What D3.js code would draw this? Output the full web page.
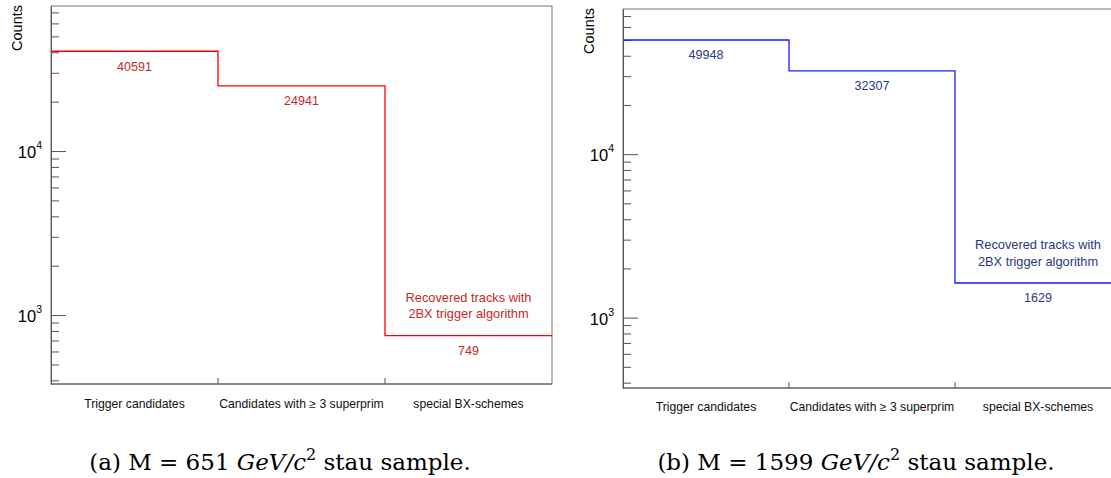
<!DOCTYPE html>
<html>
<head>
<meta charset="utf-8">
<script src="https://cdn.jsdelivr.net/npm/d3@7"></script>
<style>
  html, body { margin: 0; padding: 0; background: #fff; }
  svg { display: block; }
</style>
</head>
<body>
<svg id="chart" width="1111" height="478"></svg>
<script>
// Selection steps along the stau trigger chain
const categories = ["Trigger candidates", "Candidates with \u2265 3 superprim", "special BX-schemes"];

// Counts per step for the two stau mass samples
const counts651 = [40591, 24941, 749];
const counts1599 = [49948, 32307, 1629];

// Major tick exponents on the log axis and the note on the last step
const decadeExponents = [3, 4];
const noteLines = ["Recovered tracks with", "2BX trigger algorithm"];

const captions = [
  { label: "(a)", mass: "651" },
  { label: "(b)", mass: "1599" }
];

const panels = [
  { values: counts651, left: 51, right: 552, top: 6, bottom: 384, yMin: 380, yMax: 76600,
    line: "#ff0000", text: "#c42a2a", labelDy: 24, caption: captions[0], capX: 280 },
  { values: counts1599, left: 623, right: 1121, top: 9, bottom: 388, yMin: 371, yMax: 77300,
    line: "#1a1aff", text: "#1f3a86", labelDy: 23, caption: captions[1], capX: 856 }
];

const svg = d3.select("#chart");
const axisColor = "#555";
const sans = "'Liberation Sans', Arial, sans-serif";

panels.forEach(p => {
  const g = svg.append("g");

  const x = d3.scaleBand().domain(categories).range([p.left, p.right]).padding(0);
  const y = d3.scaleLog().domain([p.yMin, p.yMax]).range([p.bottom, p.top]);

  // frame
  g.append("rect")
    .attr("x", p.left).attr("y", p.top)
    .attr("width", p.right - p.left).attr("height", p.bottom - p.top)
    .attr("fill", "none").attr("stroke", "#777").attr("stroke-width", 1);

  // y axis: majors at decades, minors at 2..9 x decade
  const tickVals = [];
  for (let e = 2; e <= 4; e++) {
    for (let m = 1; m <= 9; m++) {
      const v = m * Math.pow(10, e);
      if (v >= p.yMin && v <= p.yMax) tickVals.push({ v, major: m === 1 && decadeExponents.includes(e) });
    }
  }
  const yAxis = d3.axisRight(y)
    .tickValues(tickVals.map(t => t.v))
    .tickSize(0)
    .tickFormat("");
  const ya = g.append("g").attr("transform", `translate(${p.left},0)`).call(yAxis);
  ya.select(".domain").attr("stroke", axisColor);
  ya.selectAll(".tick line").remove();
  ya.selectAll(".tick").data(tickVals).append("line")
    .attr("x1", 0)
    .attr("x2", d => d.major ? 15 : 8)
    .attr("stroke", axisColor).attr("stroke-width", 1);

  // decade labels 10^n
  decadeExponents.forEach(e => {
    const v = Math.pow(10, e);
    const t = g.append("text")
      .attr("x", p.left - 9).attr("y", y(v) + 7)
      .attr("text-anchor", "end")
      .attr("font-family", sans).attr("font-size", 16.5).attr("fill", "#000");
    t.append("tspan").text("10");
    t.append("tspan").attr("dy", -9).attr("font-size", 10.5).text(e);
  });

  // y title
  g.append("text")
    .attr("transform", `translate(${p.left - 29},${p.top - 1}) rotate(-90)`)
    .attr("text-anchor", "end")
    .attr("font-family", sans).attr("font-size", 14.5).attr("fill", "#000")
    .text("Counts");

  // x axis ticks at bin edges
  const edges = categories.slice(1).map(c => x(c));
  g.selectAll(".xtick").data(edges).enter().append("line")
    .attr("x1", d => d).attr("x2", d => d)
    .attr("y1", p.bottom).attr("y2", p.bottom - 6)
    .attr("stroke", axisColor);
  g.append("line")
    .attr("x1", p.left).attr("x2", p.right)
    .attr("y1", p.bottom).attr("y2", p.bottom)
    .attr("stroke", axisColor);

  // category labels
  g.selectAll(".xlab").data(categories).enter().append("text")
    .attr("x", d => x(d) + x.bandwidth() / 2)
    .attr("y", p.bottom + p.labelDy)
    .attr("text-anchor", "middle")
    .attr("font-family", sans).attr("font-size", 12.2).attr("fill", "#111")
    .text(d => d);

  // step histogram outline
  let dPath = "";
  p.values.forEach((v, i) => {
    const x0 = x(categories[i]), x1 = x0 + x.bandwidth();
    dPath += (i === 0 ? `M${x0},${y(v)}` : `L${x0},${y(v)}`) + `L${x1},${y(v)}`;
  });
  g.append("path").attr("d", dPath)
    .attr("fill", "none").attr("stroke", p.line).attr("stroke-width", 1.3);

  // value labels under each step
  g.selectAll(".vlab").data(p.values).enter().append("text")
    .attr("x", (d, i) => x(categories[i]) + x.bandwidth() / 2)
    .attr("y", d => y(d) + 19.5)
    .attr("text-anchor", "middle")
    .attr("font-family", sans).attr("font-size", 12.5).attr("fill", p.text)
    .text(d => d);

  // note above the last step
  const last = p.values.length - 1;
  const cx = x(categories[last]) + x.bandwidth() / 2;
  noteLines.forEach((ln, k) => {
    g.append("text")
      .attr("x", cx).attr("y", y(p.values[last]) - 34 + k * 16.6)
      .attr("text-anchor", "middle")
      .attr("font-family", sans).attr("font-size", 12.8).attr("fill", p.text)
      .text(ln);
  });

  // caption
  const cap = svg.append("text")
    .attr("x", p.capX).attr("y", 470)
    .attr("text-anchor", "middle")
    .attr("font-family", "'DejaVu Serif', 'Liberation Serif', serif")
    .attr("font-size", 23).attr("fill", "#000");
  cap.append("tspan").text(`${p.caption.label} M = ${p.caption.mass} `);
  cap.append("tspan").attr("font-style", "italic").text("GeV/c");
  cap.append("tspan").attr("dy", -10).attr("font-size", 16).text("2");
  cap.append("tspan").attr("dy", 10).text(" stau sample.");
});
</script>
</body>
</html>
